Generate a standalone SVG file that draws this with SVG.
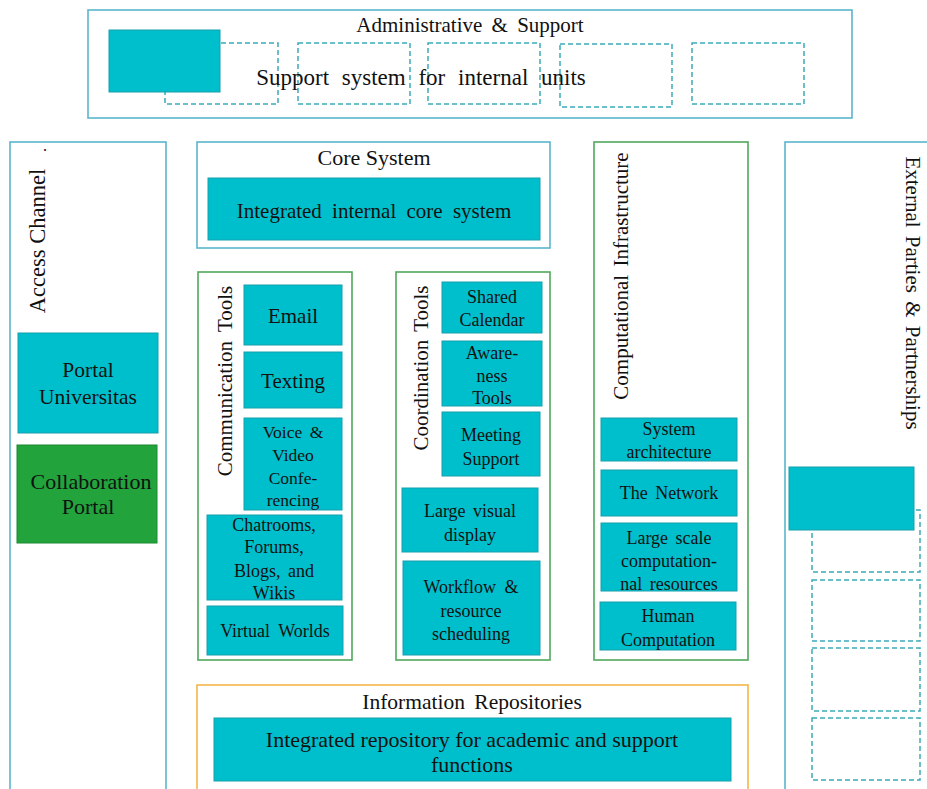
<svg xmlns="http://www.w3.org/2000/svg" width="927" height="789" viewBox="0 0 927 789">
<style>
.bg{fill:#ffffff}
.fb{fill:#ffffff;stroke:#5ab6cc;stroke-width:1.6}
.fg{fill:#ffffff;stroke:#52a85c;stroke-width:1.6}
.fo{fill:#ffffff;stroke:#f3b64c;stroke-width:1.6}
.teal{fill:#00bfcc;stroke:#17a0ac;stroke-width:1}
.green{fill:#22a33c;stroke:#1a8a30;stroke-width:1}
.dash{fill:none;stroke:#3aaab9;stroke-width:1.5;stroke-dasharray:5 3}
.t{font-family:"Liberation Serif","Times New Roman",serif;fill:#111111;text-anchor:middle}
.s18{font-size:18px}
</style>
<rect class="bg" x="0" y="0" width="927" height="789"/>

<g id="admin-support">
  <rect class="fb" x="88" y="10" width="764" height="108"/>
  <text class="t" x="470" y="32" font-size="21" word-spacing="4">Administrative &amp; Support</text>
  <rect class="dash" x="165" y="43" width="113" height="61"/>
  <rect class="dash" x="298" y="43" width="112" height="61"/>
  <rect class="dash" x="428" y="43" width="112" height="61"/>
  <rect class="dash" x="560" y="44" width="112" height="63"/>
  <rect class="dash" x="692" y="43" width="112" height="61"/>
  <rect class="teal" x="109" y="30" width="111" height="62"/>
  <text class="t" x="421" y="85" font-size="23" word-spacing="7">Support system for internal units</text>
</g>

<g id="access-channel">
  <rect class="fb" x="10" y="142" width="156" height="660"/>
  <text class="t" transform="translate(45,241) rotate(-90)" font-size="22.5">Access Channel</text>
  <text class="t" transform="translate(46,150) rotate(-90)" font-size="16">.</text>
</g>
<g id="portal-universitas">
  <rect class="teal" x="18" y="333" width="140" height="100"/>
  <text class="t" x="88" y="377" font-size="21.5">Portal</text>
  <text class="t" x="88" y="404" font-size="21.5">Universitas</text>
</g>
<g id="collaboration-portal">
  <rect class="green" x="17" y="445" width="140" height="98"/>
  <text class="t" x="91" y="489" font-size="22">Collaboration</text>
  <text class="t" x="88" y="514" font-size="22">Portal</text>
</g>

<g id="core-system">
  <rect class="fb" x="197" y="142" width="353" height="106"/>
  <text class="t" x="374" y="165" font-size="22">Core System</text>
</g>
<g id="integrated-core">
  <rect class="teal" x="208" y="178" width="332" height="62"/>
  <text class="t" x="374" y="218" font-size="21" word-spacing="5">Integrated internal core system</text>
</g>

<g id="communication-tools">
  <rect class="fg" x="198" y="272" width="154" height="388"/>
  <text class="t" transform="translate(232,381) rotate(-90)" font-size="21" word-spacing="4">Communication Tools</text>
</g>
<g id="email">
  <rect class="teal" x="244" y="285" width="98" height="60"/>
  <text class="t" x="293" y="323" font-size="21">Email</text>
</g>
<g id="texting">
  <rect class="teal" x="244" y="352" width="98" height="56"/>
  <text class="t" x="293" y="388" font-size="21">Texting</text>
</g>
<g id="voice-video">
  <rect class="teal" x="244" y="418" width="98" height="92"/>
  <text class="t" x="293" y="438" font-size="17.5" word-spacing="3">Voice &amp;</text>
  <text class="t" x="293" y="461" font-size="17.5">Video</text>
  <text class="t" x="293" y="484" font-size="17.5">Confe-</text>
  <text class="t" x="293" y="506" font-size="17.5">rencing</text>
</g>
<g id="chatrooms">
  <rect class="teal" x="207" y="515" width="135" height="85"/>
  <text class="t s18" x="274" y="531">Chatrooms,</text>
  <text class="t s18" x="274" y="553">Forums,</text>
  <text class="t s18" x="274" y="577" word-spacing="3">Blogs, and</text>
  <text class="t s18" x="274" y="599">Wikis</text>
</g>
<g id="virtual-worlds">
  <rect class="teal" x="207" y="606" width="136" height="49"/>
  <text class="t s18" x="275" y="637" word-spacing="4">Virtual Worlds</text>
</g>

<g id="coordination-tools">
  <rect class="fg" x="396" y="272" width="154" height="388"/>
  <text class="t" transform="translate(428,368) rotate(-90)" font-size="21" word-spacing="3">Coordination Tools</text>
</g>
<g id="shared-calendar">
  <rect class="teal" x="442" y="282" width="100" height="51"/>
  <text class="t s18" x="492" y="303">Shared</text>
  <text class="t s18" x="492" y="326">Calendar</text>
</g>
<g id="awareness-tools">
  <rect class="teal" x="442" y="341" width="100" height="65"/>
  <text class="t s18" x="492" y="359">Aware-</text>
  <text class="t s18" x="492" y="382">ness</text>
  <text class="t s18" x="492" y="404">Tools</text>
</g>
<g id="meeting-support">
  <rect class="teal" x="442" y="412" width="98" height="64"/>
  <text class="t s18" x="491" y="441">Meeting</text>
  <text class="t s18" x="491" y="465">Support</text>
</g>
<g id="large-visual-display">
  <rect class="teal" x="402" y="488" width="136" height="64"/>
  <text class="t s18" x="470" y="517" word-spacing="3">Large visual</text>
  <text class="t s18" x="470" y="541">display</text>
</g>
<g id="workflow">
  <rect class="teal" x="403" y="561" width="137" height="94"/>
  <text class="t s18" x="471" y="593" word-spacing="4">Workflow &amp;</text>
  <text class="t s18" x="471" y="617">resource</text>
  <text class="t s18" x="471" y="640">scheduling</text>
</g>

<g id="computational-infrastructure">
  <rect class="fg" x="594" y="142" width="154" height="518"/>
  <text class="t" transform="translate(628,276) rotate(-90)" font-size="21" word-spacing="3">Computational Infrastructure</text>
</g>
<g id="system-architecture">
  <rect class="teal" x="601" y="418" width="136" height="43"/>
  <text class="t s18" x="669" y="435">System</text>
  <text class="t s18" x="669" y="458">architecture</text>
</g>
<g id="the-network">
  <rect class="teal" x="601" y="470" width="136" height="46"/>
  <text class="t s18" x="669" y="499" word-spacing="3">The Network</text>
</g>
<g id="large-scale">
  <rect class="teal" x="601" y="523" width="136" height="68"/>
  <text class="t s18" x="669" y="544" word-spacing="3">Large scale</text>
  <text class="t s18" x="669" y="567">computation-</text>
  <text class="t s18" x="669" y="590" word-spacing="3">nal resources</text>
</g>
<g id="human-computation">
  <rect class="teal" x="600" y="602" width="136" height="48"/>
  <text class="t s18" x="668" y="622">Human</text>
  <text class="t s18" x="668" y="646">Computation</text>
</g>

<g id="external-parties">
  <rect class="fb" x="785" y="142" width="160" height="660"/>
  <text class="t" transform="translate(906,293) rotate(90)" font-size="21" word-spacing="3">External Parties &amp; Partnerships</text>
  <rect class="dash" x="812" y="510" width="108" height="62"/>
  <rect class="dash" x="812" y="580" width="108" height="61"/>
  <rect class="dash" x="812" y="648" width="108" height="63"/>
  <rect class="dash" x="812" y="718" width="108" height="62"/>
  <rect class="teal" x="789" y="467" width="125" height="63"/>
</g>

<g id="information-repositories">
  <rect class="fo" x="197" y="685" width="551" height="120"/>
  <text class="t" x="472" y="709" font-size="21.5" word-spacing="4">Information Repositories</text>
</g>
<g id="integrated-repository">
  <rect class="teal" x="214" y="718" width="517" height="63"/>
  <text class="t" x="472" y="747" font-size="22">Integrated repository for academic and support</text>
  <text class="t" x="472" y="772" font-size="22">functions</text>
</g>

<g id="connectors"></g>
</svg>
